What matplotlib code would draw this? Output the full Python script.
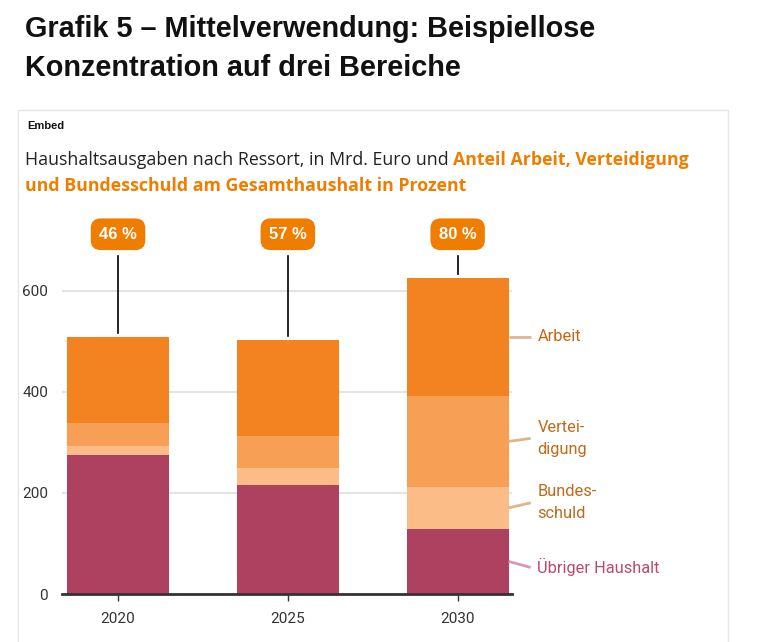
import matplotlib
matplotlib.use("Agg")
import matplotlib.pyplot as plt
from matplotlib.patches import Rectangle

# Werte in Mrd. Euro
jahre = ["2020", "2025", "2030"]
uebriger = [275, 216, 129]
bundesschuld = [18, 34, 83]
verteidigung = [46, 63, 180]
arbeit = [170, 190, 234]
anteil = ["46 %", "57 %", "80 %"]

serien = ["Übriger Haushalt", "Bundesschuld", "Verteidigung", "Arbeit"]
labels = ["Übriger Haushalt", "Bundes-\nschuld", "Vertei-\ndigung", "Arbeit"]
farben = ["#ae4160", "#fbbc88", "#f79f55", "#f38321"]
textfarben = ["#b94a6a", "#c06a1a", "#c06a1a", "#c8650f"]
linienfarben = ["#d899aa", "#dfb48e", "#dfb48e", "#dfb48e"]
label_dy = [-12, 10, 6, 0]  # kleine Verschiebung gegen Überlappung

W, H = 763, 642
fig = plt.figure(figsize=(W / 100, H / 100), dpi=100)

# Rahmen um das Embed
fig.patches.append(Rectangle((18 / W, -0.05), (728 - 18) / W, (H - 110) / H + 0.05,
                             transform=fig.transFigure, fill=False,
                             ec="#e6e6e6", lw=1))

fig.text(25 / W, 1 - 15 / H,
         "Grafik 5 – Mittelverwendung: Beispiellose\nKonzentration auf drei Bereiche",
         family="Liberation Sans", weight="bold", fontsize=20.8, va="top",
         linespacing=1.5, color="#111111")
fig.text(27 / W, 1 - 126 / H, "Embed", family="Liberation Sans", weight="bold",
         fontsize=8, va="center", color="#111111")

orange = "#ef7d00"
t1 = fig.text(25 / W, 1 - 160 / H, "Haushaltsausgaben nach Ressort, in Mrd. Euro und ",
              family="Open Sans", fontsize=12.8, va="center", color="#222222")
fig.canvas.draw()
bb = t1.get_window_extent(fig.canvas.get_renderer())
fig.text(bb.x1 / W, 1 - 160 / H, "Anteil Arbeit, Verteidigung", family="Open Sans",
         weight="bold", fontsize=12.8, va="center", color=orange)
fig.text(25 / W, 1 - 186 / H, "und Bundesschuld am Gesamthaushalt in Prozent",
         family="Open Sans", weight="bold", fontsize=12.8, va="center", color=orange)

ax = fig.add_axes([62 / W, (H - 594) / H, (512 - 62) / W, (594 - 210) / H])
x = list(range(len(jahre)))
werte = [uebriger, bundesschuld, verteidigung, arbeit]
unten = [0] * len(jahre)
for name, w, f in zip(serien, werte, farben):
    ax.bar(x, w, width=0.6, bottom=unten, color=f, label=name, zorder=2)
    unten = [u + v for u, v in zip(unten, w)]
summen = unten

ax.set_xlim(-0.33, 2.32)
ax.set_ylim(0, 760)
ax.set_yticks([0, 200, 400, 600])
ax.set_xticks(x)
ax.set_xticklabels(jahre)
ax.grid(axis="y", color="#e4e4e4", lw=1.5, zorder=0)
for s in ["top", "right", "left"]:
    ax.spines[s].set_visible(False)
ax.spines["bottom"].set_color("#333333")
ax.spines["bottom"].set_linewidth(2)
ax.spines["bottom"].set_zorder(3)
ax.tick_params(axis="y", length=0, pad=10, labelsize=11, labelcolor="#333333")
ax.tick_params(axis="x", length=5, width=1, color="#333333", pad=8,
               labelsize=11, labelcolor="#333333")
for lab in ax.get_xticklabels() + ax.get_yticklabels():
    lab.set_family("Roboto")

# Anteils-Badges
for xi, s, a in zip(x, summen, anteil):
    ax.plot([xi, xi], [s + 8, 669], color="black", lw=1.2, clip_on=False, zorder=3)
    ax.text(xi, 712, a, ha="center", va="center", color="white", weight="bold",
            fontsize=12, family="Liberation Sans", clip_on=False,
            bbox=dict(boxstyle="round,pad=0.5,rounding_size=0.6", fc=orange, ec="none"))

# Beschriftungen rechts am letzten Balken
basis = 0
for w, lab, tc, lc, dy in zip(werte, labels, textfarben, linienfarben, label_dy):
    mitte = basis + w[-1] / 2
    basis += w[-1]
    ax.plot([2.3, 2.43], [mitte, mitte + dy], color=lc, lw=2, clip_on=False,
            solid_capstyle="butt")
    ax.text(2.47, mitte + dy, lab, ha="left", va="center", color=tc, fontsize=11.8,
            family="Roboto", linespacing=1.55, clip_on=False)

fig.savefig("out.png", dpi=100)
